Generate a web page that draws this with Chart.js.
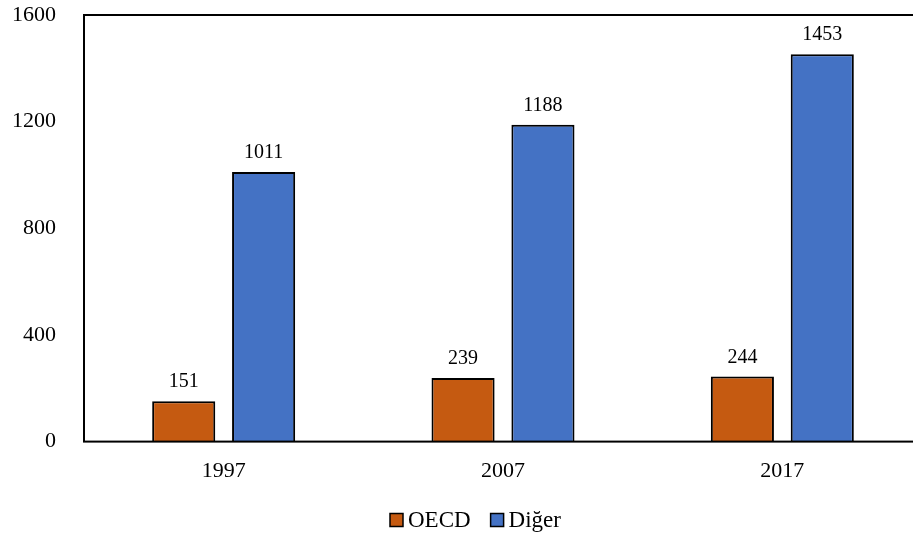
<!DOCTYPE html>
<html>
<head>
<meta charset="utf-8">
<script src="https://cdn.jsdelivr.net/npm/chart.js@4/dist/chart.umd.min.js"></script>
<style>
  html, body { margin: 0; padding: 0; background: #fff; overflow: hidden; }
  #wrap { width: 913px; height: 536px; overflow: hidden; }
</style>
</head>
<body>
<div id="wrap"><canvas id="c" width="922" height="536"></canvas></div>
<script>
const years = ['1997', '2007', '2017'];
const oecd = [151, 239, 244];
const diger = [1011, 1188, 1453];
const yTicks = [0, 400, 800, 1200, 1600];

const FONT = "'Liberation Serif', 'Times New Roman', serif";

// Frame around the plot area, value labels above the bars, and a compact legend
const framePlugin = {
  id: 'frame',
  afterDatasetsDraw(chart) {
    const { ctx, chartArea: a } = chart;
    ctx.save();
    ctx.strokeStyle = '#000';
    ctx.lineWidth = 2;
    ctx.strokeRect(a.left, a.top, a.right - a.left, a.bottom - a.top);

    ctx.fillStyle = '#000';
    ctx.font = '20px ' + FONT;
    ctx.textAlign = 'center';
    ctx.textBaseline = 'alphabetic';
    chart.data.datasets.forEach((ds, i) => {
      chart.getDatasetMeta(i).data.forEach((bar, j) => {
        ctx.fillText(String(ds.data[j]), bar.x, bar.y - 14);
      });
    });

    // legend below the category labels
    ctx.font = '23px ' + FONT;
    const box = 13, gapText = 5, gapItem = 20;
    let x = 390;
    const cy = 520;
    ctx.textAlign = 'left';
    ctx.textBaseline = 'middle';
    chart.data.datasets.forEach((ds, i) => {
      if (i) x += gapItem;
      ctx.fillStyle = ds.backgroundColor;
      ctx.fillRect(x, cy - box / 2, box, box);
      ctx.lineWidth = 1.5;
      ctx.strokeStyle = '#000';
      ctx.strokeRect(x, cy - box / 2, box, box);
      x += box + gapText;
      ctx.fillStyle = '#000';
      ctx.fillText(ds.label, x, cy + 1);
      x += ctx.measureText(ds.label).width;
    });
    ctx.restore();
  }
};

new Chart(document.getElementById('c'), {
  type: 'bar',
  data: {
    labels: years,
    datasets: [
      { label: 'OECD', data: oecd, backgroundColor: '#C55A11', borderColor: '#000', borderWidth: 2 },
      { label: 'Diğer', data: diger, backgroundColor: '#4472C4', borderColor: '#000', borderWidth: 2 }
    ]
  },
  options: {
    responsive: false,
    animation: false,
    devicePixelRatio: 1,
    layout: { padding: { top: 15, right: 0, left: 0, bottom: 36 } },
    datasets: { bar: { categoryPercentage: 0.572, barPercentage: 0.79 } },
    scales: {
      x: {
        grid: { display: false, drawTicks: false },
        border: { display: false },
        ticks: { color: '#000', font: { family: FONT, size: 22 }, padding: 16 },
        afterFit(scale) { scale.paddingLeft = 0; scale.paddingRight = 0; }
      },
      y: {
        min: 0, max: 1600,
        afterBuildTicks(scale) { scale.ticks = yTicks.map(v => ({ value: v })); },
        afterFit(scale) { scale.width = 84; scale.paddingTop = 0; scale.paddingBottom = 0; },
        grid: { display: false, drawTicks: false },
        border: { display: false },
        ticks: {
          color: '#000', font: { family: FONT, size: 22 }, padding: 28,
          callback: v => String(v)
        }
      }
    },
    plugins: {
      legend: { display: false },
      tooltip: { enabled: false }
    }
  },
  plugins: [framePlugin]
});
</script>
</body>
</html>
